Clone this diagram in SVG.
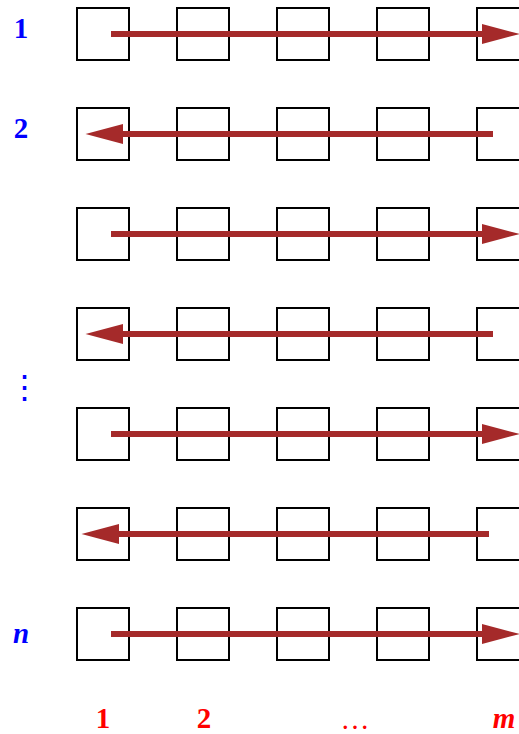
<svg xmlns="http://www.w3.org/2000/svg" width="519" height="734" viewBox="0 0 519 734">
<style>
.box{fill:none;stroke:#000;stroke-width:2}
.arr{stroke:#A52A2A;stroke-width:6;fill:none;marker-end:url(#head)}
.lb{font-family:"Liberation Serif","Times New Roman",serif;font-weight:bold;font-size:29px;text-anchor:middle}
.blue{fill:#0000FF}
.red{fill:#FF0000}
.it{font-style:italic}
</style>
<defs>
<marker id="head" viewBox="0 -10 38 20" refX="0" refY="0" markerWidth="38" markerHeight="20" markerUnits="userSpaceOnUse" orient="auto" overflow="visible">
<path d="M0,-10 L37.5,0 L0,10 Z" fill="#A52A2A"/>
</marker>
<g id="rowboxes">
<rect class="box" x="77" y="0" width="52" height="52"/>
<rect class="box" x="177" y="0" width="52" height="52"/>
<rect class="box" x="277" y="0" width="52" height="52"/>
<rect class="box" x="377" y="0" width="52" height="52"/>
<rect class="box" x="477" y="0" width="52" height="52"/>
</g>
</defs>
<g id="row1"><use href="#rowboxes" y="8"/></g>
<g id="row2"><use href="#rowboxes" y="108"/></g>
<g id="row3"><use href="#rowboxes" y="208"/></g>
<g id="row4"><use href="#rowboxes" y="308"/></g>
<g id="row5"><use href="#rowboxes" y="408"/></g>
<g id="row6"><use href="#rowboxes" y="508"/></g>
<g id="row7"><use href="#rowboxes" y="608"/></g>
<g id="connectors">
<line class="arr" x1="111" y1="34" x2="482" y2="34"/>
<line class="arr" x1="493" y1="134" x2="123" y2="134"/>
<line class="arr" x1="111" y1="234" x2="482" y2="234"/>
<line class="arr" x1="493" y1="334" x2="123" y2="334"/>
<line class="arr" x1="111" y1="434" x2="482" y2="434"/>
<line class="arr" x1="489" y1="534" x2="119" y2="534"/>
<line class="arr" x1="111" y1="634" x2="482" y2="634"/>
</g>
<g id="row-labels">
<text class="lb blue" x="21" y="38">1</text>
<text class="lb blue" x="21" y="138">2</text>
<text class="blue" x="24" y="399" font-family="DejaVu Serif,serif" font-size="33" text-anchor="middle">⋮</text>
<text class="lb blue it" x="21" y="643">n</text>
</g>
<g id="col-labels">
<text class="lb red" x="103" y="728">1</text>
<text class="lb red" x="204" y="728">2</text>
<text class="red" x="355" y="729" font-family="Liberation Serif,serif" font-size="29" text-anchor="middle">…</text>
<text class="lb red it" x="504" y="728">m</text>
</g>
</svg>
